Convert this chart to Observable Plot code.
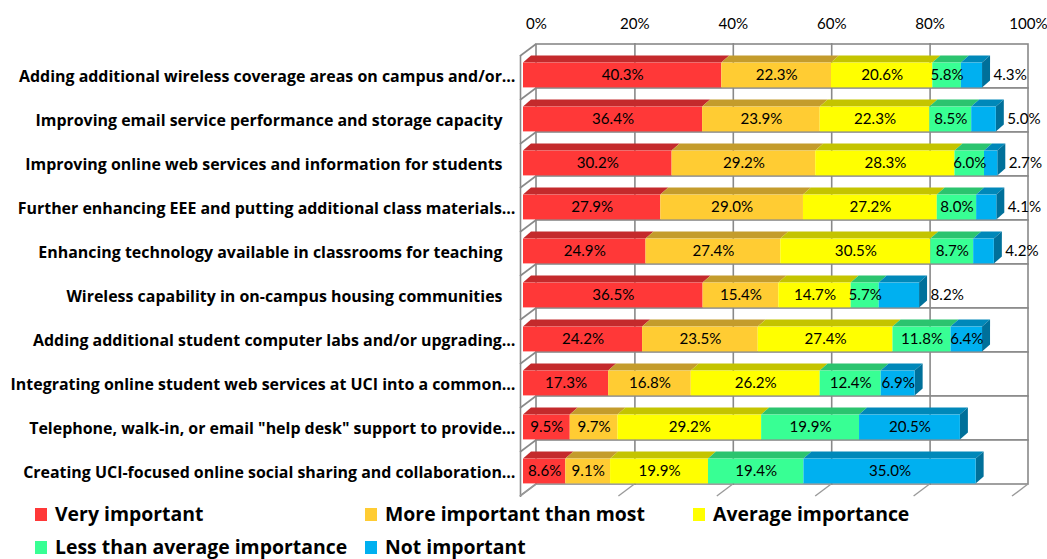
<!DOCTYPE html>
<html><head><meta charset="utf-8">
<script src="https://cdn.jsdelivr.net/npm/d3@7"></script>
<script src="https://cdn.jsdelivr.net/npm/@observablehq/plot@0.6"></script>
<style>
body{margin:0;background:#fff;font-family:"Open Sans",sans-serif;}
#chart{width:1047px;height:500px;}
#legend{position:relative;height:59px;width:1047px;}
.item{position:absolute;display:flex;align-items:center;font-weight:bold;font-family:"Open Sans",sans-serif;color:#000;white-space:nowrap;line-height:1;}
.sw{width:12px;height:13px;margin-right:8px;flex:none;}
</style></head><body><div id="chart"></div><div id="legend"></div>
<script>
const categories = [
  "Adding additional wireless coverage areas on campus and/or…",
  "Improving email service performance and storage capacity",
  "Improving online web services and information for students",
  "Further enhancing EEE and putting additional class materials…",
  "Enhancing technology available in classrooms for teaching",
  "Wireless capability in on-campus housing communities",
  "Adding additional student computer labs and/or upgrading…",
  "Integrating online student web services at UCI into a common…",
  "Telephone, walk-in, or email \"help desk\" support to provide…",
  "Creating UCI-focused online social sharing and collaboration…"
];
const series = ["Very important","More important than most","Average importance","Less than average importance","Not important"];
const veryImportant     = [40.3,36.4,30.2,27.9,24.9,36.5,24.2,17.3,9.5,8.6];
const moreImportant     = [22.3,23.9,29.2,29.0,27.4,15.4,23.5,16.8,9.7,9.1];
const averageImportance = [20.6,22.3,28.3,27.2,30.5,14.7,27.4,26.2,29.2,19.9];
const lessThanAverage   = [5.8,8.5,6.0,8.0,8.7,5.7,11.8,12.4,19.9,19.4];
const notImportant      = [4.3,5.0,2.7,4.1,4.2,8.2,6.4,6.9,20.5,35.0];
const tickValues = [0,20,40,60,80,100];

const frontColors = ["#FF3838","#FFCC33","#FFFF00","#38FF94","#00B0F0"];
const topColors   = ["#C42A2C","#C49C2C","#C4C400","#2BC46F","#0088B9"];
const sideColors  = ["#A02224","#A07F24","#A0A000","#23A05A","#00709A"];

const seriesValues = [veryImportant, moreImportant, averageImportance, lessThanAverage, notImportant];
const rows = [];
categories.forEach((c, i) => {
  let acc = 0;
  series.forEach((s, j) => {
    const v = seriesValues[j][i];
    rows.push({category: c, series: s, si: j, value: v, x1: acc, x2: acc + v, last: j === series.length - 1});
    acc += v;
  });
});
const outsideCats = new Set(categories.slice(0, 6));
const isOutside = d => d.last && outsideCats.has(d.category);

// fit font sizes to the reference text widths
const ctx = document.createElement("canvas").getContext("2d");
function fitSize(text, family, weight, targetWidth) {
  ctx.font = `${weight} 100px ${family}`;
  return 100 * targetWidth / ctx.measureText(text).width;
}
const catFont = "'Open Sans', sans-serif";
const catSize = fitSize(categories[0], catFont, "bold", 497);
const legSize = fitSize(series[1], catFont, "bold", 260);
const numFont = "Lato, sans-serif";
const numSize = fitSize("40.3%", numFont, "normal", 42);

const gridColor = "#898989";
const inset = 9.6;          // bar thickness inside band
const bdx = 8, bdy = 7;     // bar depth
const wdx = 13, wdy = -9;   // wall offset

function leftWall(index, scales) {
  const g = d3.create("svg:g").attr("stroke", gridColor).attr("stroke-width", 1.6).attr("fill", "none");
  const x0 = scales.x(0);
  const bw = scales.y.bandwidth();
  const bounds = categories.map(c => scales.y(c)).concat([scales.y(categories[categories.length-1]) + bw]);
  for (const yb of bounds) {
    g.append("line").attr("x1", x0 - 3).attr("y1", yb + 3).attr("x2", x0 + wdx).attr("y2", yb + wdy);
  }
  return g.node();
}
function floorTicks(index, scales) {
  const g = d3.create("svg:g").attr("stroke", "#9a9a9a").attr("stroke-width", 1.4).attr("fill", "none");
  const yb = scales.y(categories[categories.length-1]) + scales.y.bandwidth();
  for (const t of tickValues) {
    const xb = scales.x(t) + wdx;
    g.append("line").attr("x1", xb).attr("y1", yb + wdy).attr("x2", xb - 16).attr("y2", yb + wdy + 12);
  }
  return g.node();
}
function barTops(index, scales) {
  const g = d3.create("svg:g");
  const bw = scales.y.bandwidth();
  for (const d of rows) {
    const xa = scales.x(d.x1), xb = scales.x(d.x2);
    const yt = scales.y(d.category) + inset;
    const h = bw - 2 * inset;
    g.append("polygon")
      .attr("points", [[xa, yt], [xb, yt], [xb + bdx, yt - bdy], [xa + bdx, yt - bdy]].map(p => p.join(",")).join(" "))
      .attr("fill", topColors[d.si]);
    if (d.last) {
      g.append("polygon")
        .attr("points", [[xb, yt], [xb + bdx, yt - bdy], [xb + bdx, yt - bdy + h], [xb, yt + h]].map(p => p.join(",")).join(" "))
        .attr("fill", sideColors[d.si]);
    }
  }
  return g.node();
}

const plot = Plot.plot({
  width: 1047, height: 500,
  marginLeft: 523, marginRight: 32, marginTop: 52, marginBottom: 6,
  x: {domain: [0, 100], axis: null},
  y: {domain: categories, axis: null, padding: 0},
  color: {domain: series, range: frontColors},
  style: {fontFamily: numFont, background: "white", color: "#000"},
  marks: [
    Plot.barX(categories, {x1: 0, x2: 100, y: d => d, fill: "white", stroke: gridColor, strokeWidth: 1.6, dx: wdx, dy: wdy}),
    Plot.ruleX(tickValues.slice(1, -1), {stroke: gridColor, strokeWidth: 1.6, dx: wdx, dy: wdy}),
    Plot.ruleX([0], {stroke: gridColor, strokeWidth: 1.6, dx: -3, dy: 3}),
    leftWall,
    floorTicks,
    barTops,
    Plot.barX(rows, {x1: "x1", x2: "x2", y: "category", fill: "series", insetTop: inset, insetBottom: inset}),
    Plot.text(tickValues, {x: d => d, text: d => d + "%", frameAnchor: "top", dy: -34, dx: wdx, fontSize: numSize, fill: "#000"}),
    Plot.text(rows.filter(d => !isOutside(d)), {x: d => (d.x1 + d.x2) / 2, y: "category", text: d => d.value.toFixed(1) + "%", fontSize: numSize, fill: "#000"}),
    Plot.text(rows.filter(isOutside), {x: "x2", y: "category", text: d => d.value.toFixed(1) + "%", textAnchor: "start", dx: 11, fontSize: numSize, fill: "#000"}),
    Plot.text(categories.filter(c => c.endsWith("…")), {y: d => d, text: d => d, frameAnchor: "left", textAnchor: "end", dx: -8, dy: 1, fontSize: catSize, fontWeight: "bold", fontFamily: catFont, fill: "#000"}),
    Plot.text(categories.filter(c => !c.endsWith("…")), {y: d => d, text: d => d, frameAnchor: "left", textAnchor: "end", dx: -21, dy: 1, fontSize: catSize, fontWeight: "bold", fontFamily: catFont, fill: "#000"})
  ]
});
document.getElementById("chart").appendChild(plot);

const legendPos = [[35, 14], [365, 14], [693, 14], [35, 47], [365, 47]];
const legend = d3.select("#legend");
series.forEach((s, j) => {
  const it = legend.append("div").attr("class", "item")
    .style("left", legendPos[j][0] + "px").style("top", (legendPos[j][1] - 10) + "px").style("height", "20px")
    .style("font-size", legSize + "px");
  it.append("div").attr("class", "sw").style("background", plot.scale("color").apply(s));
  it.append("span").text(s);
});
</script></body></html>
